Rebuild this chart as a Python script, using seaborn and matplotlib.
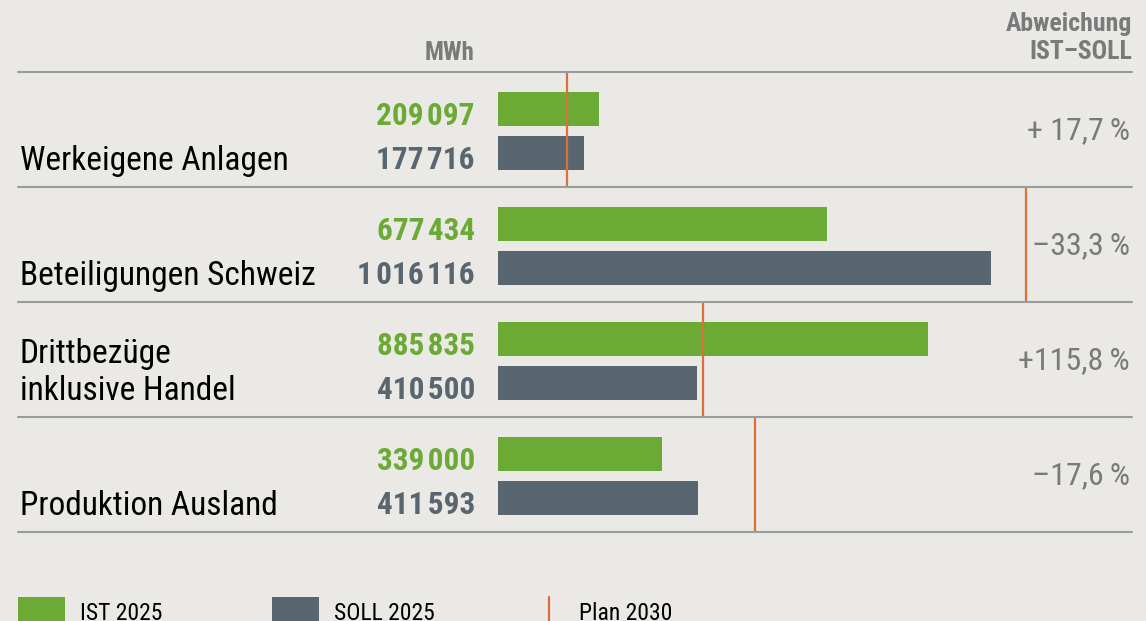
import numpy as np
import pandas as pd
import matplotlib.pyplot as plt
import matplotlib.transforms as mtransforms
from matplotlib.lines import Line2D
from matplotlib.patches import Rectangle
import seaborn as sns

# Data (MWh)
categories = ["Werkeigene Anlagen", "Beteiligungen Schweiz",
              "Drittbezüge\ninklusive Handel", "Produktion Ausland"]
ist_2025 = [209097, 677434, 885835, 339000]
soll_2025 = [177716, 1016116, 410500, 411593]
plan_2030 = [142000, 1088000, 422000, 530000]
abweichung = ["+ 17,7\u2009%", "\u201333,3\u2009%", "+115,8\u2009%", "\u201317,6\u2009%"]

GREEN = "#6aaa35"
SLATE = "#59656f"
ORANGE = "#d9703a"
BG = "#ebe9e5"
RULE = "#9b9b9b"
GREYTXT = "#7a7a7a"

df = pd.DataFrame({
    "Kategorie": categories * 2,
    "MWh": ist_2025 + soll_2025,
    "Serie": ["IST 2025"] * 4 + ["SOLL 2025"] * 4,
})

sns.set_theme(style="white")
plt.rcParams["font.family"] = ["Roboto Condensed", "IBM Plex Sans Condensed", "DejaVu Sans"]

W, H = 1146, 621
fig = plt.figure(figsize=(W / 100, H / 100), dpi=100, facecolor=BG)


def fx(x):
    return x / W


def fy(y):
    return 1 - y / H


d = -0.013  # small shift of the rows relative to the bars

# bar axes: left edge at the bar origin, rows between the rules
ax = fig.add_axes([fx(498), fy(532), fx(1132) - fx(498), fy(72) - fy(532)])
ax.set_facecolor("none")
sns.barplot(data=df, y="Kategorie", x="MWh", hue="Serie", orient="h",
            palette=[GREEN, SLATE], width=0.765, gap=0.23, saturation=1,
            linewidth=0, edgecolor="none", legend=False, ax=ax)
ax.set_xlim(0, max(soll_2025) * (1132 - 498) / (991 - 498))
ax.set_ylim(3.5 + d, -0.5 + d)
ax.axis("off")

# plan 2030 markers spanning each row
rows = np.arange(len(categories))
ax.vlines(plan_2030, rows - 0.5 + d, rows + 0.5 + d, color=ORANGE, lw=1.6, zorder=3)

# horizontal rules across the full width
trans = mtransforms.blended_transform_factory(fig.transFigure, ax.transData)
for k in range(len(categories) + 1):
    fig.add_artist(Line2D([fx(18), fx(1132)], [k - 0.5 + d] * 2,
                          transform=trans, color=RULE, lw=1.5))

# value labels left of the bars
for cont, vals, col in [(ax.containers[0], ist_2025, GREEN),
                        (ax.containers[1], soll_2025, SLATE)]:
    for bar, v in zip(cont, vals):
        ybot = bar.get_y() + bar.get_height()
        ax.annotate(f"{v:,}".replace(",", "\u200a"), xy=(0, ybot),
                    xytext=(-23, 1), textcoords="offset pixels",
                    ha="right", va="baseline", fontsize=22.5,
                    fontweight="bold", color=col)

# category labels, baseline aligned with the SOLL bar bottom
for bar, lab in zip(ax.containers[1], categories):
    ybot = bar.get_y() + bar.get_height()
    ax.annotate(lab, xy=(20, 0), xycoords=("figure pixels", "data"),
                xytext=(20, ybot), textcoords=("figure pixels", "data"),
                ha="left", va="baseline", fontsize=24, color="black",
                linespacing=1.2)

# deviation IST-SOLL
for i, txt in enumerate(abweichung):
    ax.annotate(txt, xy=(1130, i), xycoords=("figure pixels", "data"),
                ha="right", va="center", fontsize=23, color=GREYTXT)

# headers
fig.text(fx(475), fy(53), "MWh", ha="right", va="center", fontsize=18,
         fontweight="bold", color=GREYTXT)
fig.text(fx(1132), fy(38), "Abweichung\nIST\u2013SOLL", ha="right", va="center",
         fontsize=18.5, fontweight="bold", color=GREYTXT, linespacing=1.25,
         multialignment="right")

# legend
fig.add_artist(Rectangle((fx(18), 0), fx(65) - fx(18), fy(597), transform=fig.transFigure,
                         color=GREEN, lw=0))
fig.text(fx(80), fy(602), "IST 2025", ha="left", va="top", fontsize=17, color="black")
fig.add_artist(Rectangle((fx(272), 0), fx(319) - fx(272), fy(597), transform=fig.transFigure,
                         color=SLATE, lw=0))
fig.text(fx(334), fy(602), "SOLL 2025", ha="left", va="top", fontsize=17, color="black")
fig.add_artist(Line2D([fx(549), fx(549)], [0, fy(597)], transform=fig.transFigure,
                      color=ORANGE, lw=1.6))
fig.text(fx(579), fy(602), "Plan 2030", ha="left", va="top", fontsize=17, color="black")

fig.savefig("out.png", dpi=100, facecolor=BG)
